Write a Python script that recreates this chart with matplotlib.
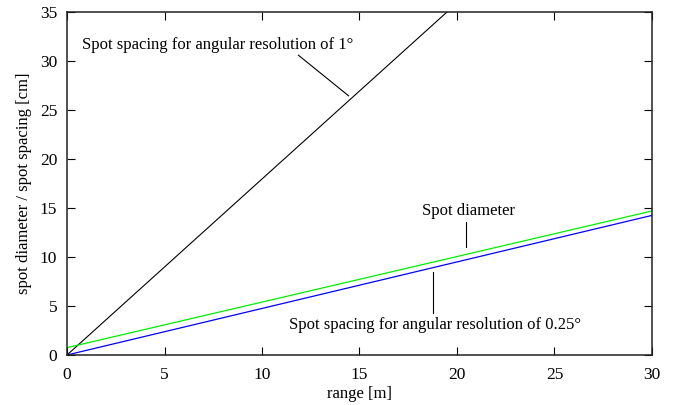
import matplotlib
matplotlib.use("Agg")
import matplotlib.pyplot as plt

# values
range_m = [0, 30]
spacing_1deg = [0, 53.9]
spot_diameter = [0.75, 14.7]
spacing_025deg = [0, 14.25]

x_ticks = [0, 5, 10, 15, 20, 25, 30]
y_ticks = [0, 5, 10, 15, 20, 25, 30, 35]

plt.rcParams['font.family'] = ['Liberation Serif', 'DejaVu Serif']
plt.rcParams['font.size'] = 12

fig = plt.figure(figsize=(6.77, 4.05), dpi=100)
ax = fig.add_axes([0.099, 0.1235, 0.864, 0.8465])

ax.plot(range_m, spacing_1deg, color='black', lw=0.8)
ax.plot(range_m, spot_diameter, color='#00ee00', lw=0.9)
ax.plot(range_m, spacing_025deg, color='#0000ff', lw=0.9)

ax.set_xlim(0, 30)
ax.set_ylim(0, 35)
ax.set_xticks(x_ticks)
ax.set_yticks(y_ticks)
ax.tick_params(direction='in', length=5.5, width=0.8, top=True, right=True,
               labelsize=12.5)
ax.tick_params(axis='x', pad=9)
ax.tick_params(axis='y', pad=7)
for s in ax.spines.values():
    s.set_linewidth(1.1)
    s.set_color('#222222')

ax.set_xlabel('range [m]', fontsize=12, labelpad=2)
ax.set_ylabel('spot diameter / spot spacing [cm]', fontsize=12, labelpad=6)

# labels with plain leader lines (gnuplot style)
ax.text(0.77, 31.6, 'Spot spacing for angular resolution of 1°',
        ha='left', va='center', fontsize=12)
ax.plot([11.87, 14.44], [30.6, 26.46], color='black', lw=0.8)

ax.text(20.6, 13.9, 'Spot diameter', ha='center', va='bottom', fontsize=12)
ax.plot([20.46, 20.46], [13.6, 11.05], color='black', lw=0.8)

ax.text(11.4, 3.05, 'Spot spacing for angular resolution of 0.25°',
        ha='left', va='center', fontsize=12)
ax.plot([18.75, 18.75], [8.44, 4.26], color='black', lw=0.8)

fig.savefig('out.png', dpi=100)
